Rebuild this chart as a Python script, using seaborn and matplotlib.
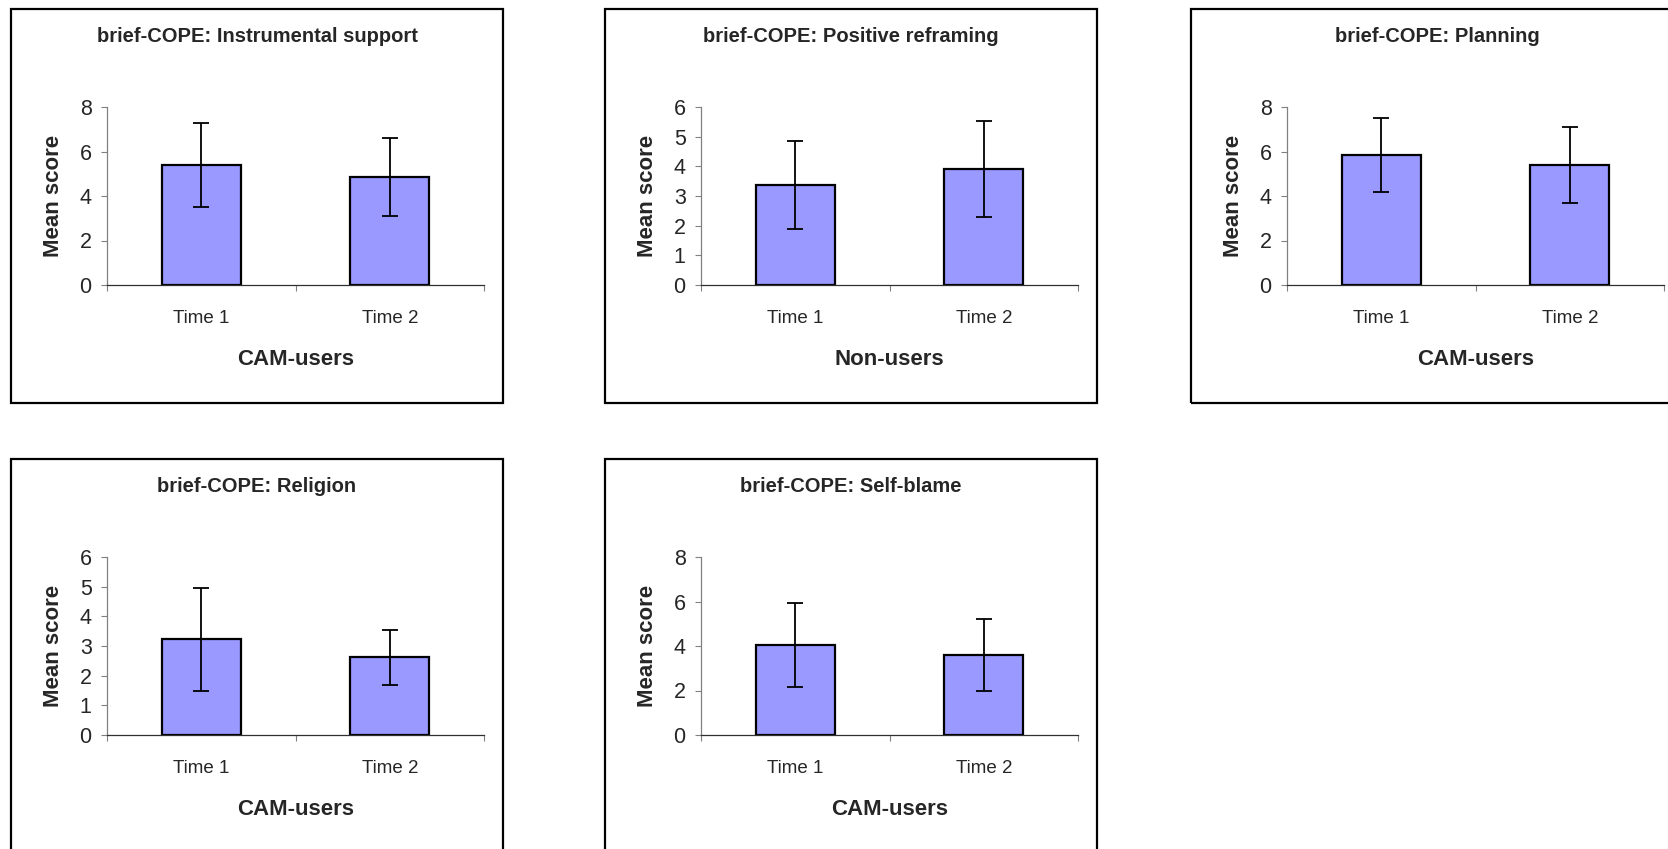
import matplotlib
matplotlib.use('Agg')
import matplotlib.pyplot as plt
import matplotlib.patches as patches
import seaborn as sns
import numpy as np

# data
times = ['Time 1', 'Time 2']

titles = ['brief-COPE: Instrumental support', 'brief-COPE: Positive reframing',
          'brief-COPE: Planning', 'brief-COPE: Religion', 'brief-COPE: Self-blame']
groups = ['CAM-users', 'Non-users', 'CAM-users', 'CAM-users', 'CAM-users']
ymax = [8, 6, 8, 6, 8]
ystep = [2, 1, 2, 1, 2]

instrumental_mean = [5.4, 4.85]
instrumental_sd = [1.88, 1.75]
reframing_mean = [3.37, 3.91]
reframing_sd = [1.48, 1.62]
planning_mean = [5.84, 5.4]
planning_sd = [1.67, 1.7]
religion_mean = [3.23, 2.62]
religion_sd = [1.73, 0.92]
selfblame_mean = [4.05, 3.6]
selfblame_sd = [1.9, 1.63]

means = [instrumental_mean, reframing_mean, planning_mean, religion_mean, selfblame_mean]
sds = [instrumental_sd, reframing_sd, planning_sd, religion_sd, selfblame_sd]

sns.set_style('white')
plt.rcParams['font.family'] = ['Liberation Sans', 'DejaVu Sans']

W, H = 1668, 849
fig = plt.figure(figsize=(W / 100, H / 100), dpi=100)

# panel boxes (left, top) in pixels, axes offsets inside each box
boxes = [(11, 9), (605, 9), (1191, 9), (11, 459), (605, 459)]
box_w, box_h = 492, 394
ax_dx, ax_dy, ax_w, ax_h = 96, 98, 377, 178

for i in range(5):
    bx, by = boxes[i]
    fig.patches.append(patches.Rectangle((bx / W, 1 - (by + box_h) / H), box_w / W, box_h / H,
                                         transform=fig.transFigure, fill=False,
                                         edgecolor='black', linewidth=1.6))
    x0 = bx + ax_dx
    y0 = by + ax_dy
    ax = fig.add_axes([x0 / W, 1 - (y0 + ax_h) / H, ax_w / W, ax_h / H])

    sns.barplot(x=times, y=means[i], color='#9999FF', edgecolor='black',
                linewidth=1.6, width=0.42, saturation=1, ax=ax)
    ax.errorbar(np.arange(2), means[i], yerr=sds[i], fmt='none', ecolor='black',
                elinewidth=1.3, capsize=5.5, capthick=1.3)

    ax.set_xlim(-0.5, 1.5)
    ax.set_ylim(0, ymax[i])
    ax.set_yticks(np.arange(0, ymax[i] + 0.1, ystep[i]))
    ax.set_xticks([-0.5, 0.5, 1.5], minor=True)
    ax.tick_params(axis='x', which='major', length=0, pad=18, labelsize=13.5)
    ax.tick_params(axis='x', which='minor', length=4.5, width=0.8, color='#808080', direction='out')
    ax.tick_params(axis='y', length=4, width=0.8, color='#808080', direction='out',
                   pad=7, labelsize=15.5)
    ax.xaxis.set_ticks_position('bottom')
    ax.yaxis.set_ticks_position('left')

    for s in ['top', 'right']:
        ax.spines[s].set_visible(False)
    for s in ['left', 'bottom']:
        ax.spines[s].set_color('#808080')
        ax.spines[s].set_linewidth(0.9)
    ax.spines['bottom'].set_color('#303030')

    ax.set_xlabel(groups[i], fontsize=16, fontweight='bold', labelpad=16)
    ax.set_ylabel('Mean score', fontsize=16, fontweight='bold', labelpad=11.5)

    fig.text((bx + box_w / 2) / W, 1 - (by + 28) / H, titles[i], ha='center', va='center',
             fontsize=14.5, fontweight='bold')

fig.savefig('out.png', dpi=100, facecolor='white')
